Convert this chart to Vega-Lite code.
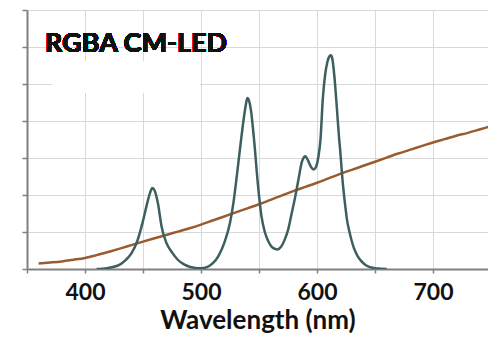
{
  "$schema": "https://vega.github.io/schema/vega-lite/v6.json",
  "autosize": {"type": "none"},
  "width": 461,
  "height": 259,
  "padding": {"left": 27, "top": 10, "right": 0, "bottom": 70},
  "background": "white",
  "config": {
    "view": {"stroke": null},
    "axis": {
      "grid": true, "gridColor": "#d9d9d9", "gridWidth": 1,
      "domainColor": "#808080", "domainWidth": 2,
      "tickColor": "#808080", "tickWidth": 1.5
    }
  },
  "data": {
    "values": [
      {"wl": 360, "v": 0.15, "s": "curve"}, {"wl": 370, "v": 0.175, "s": "curve"}, {"wl": 380, "v": 0.205, "s": "curve"}, {"wl": 390, "v": 0.25, "s": "curve"},
      {"wl": 400, "v": 0.3, "s": "curve"}, {"wl": 410, "v": 0.375, "s": "curve"}, {"wl": 420, "v": 0.46, "s": "curve"}, {"wl": 430, "v": 0.55, "s": "curve"},
      {"wl": 440, "v": 0.645, "s": "curve"}, {"wl": 450, "v": 0.74, "s": "curve"}, {"wl": 460, "v": 0.83, "s": "curve"}, {"wl": 470, "v": 0.92, "s": "curve"},
      {"wl": 480, "v": 1.01, "s": "curve"}, {"wl": 490, "v": 1.1, "s": "curve"}, {"wl": 500, "v": 1.2, "s": "curve"}, {"wl": 510, "v": 1.31, "s": "curve"},
      {"wl": 520, "v": 1.42, "s": "curve"}, {"wl": 530, "v": 1.53, "s": "curve"}, {"wl": 540, "v": 1.64, "s": "curve"}, {"wl": 550, "v": 1.75, "s": "curve"},
      {"wl": 560, "v": 1.87, "s": "curve"}, {"wl": 570, "v": 1.99, "s": "curve"}, {"wl": 580, "v": 2.11, "s": "curve"}, {"wl": 590, "v": 2.22, "s": "curve"},
      {"wl": 600, "v": 2.33, "s": "curve"}, {"wl": 610, "v": 2.45, "s": "curve"}, {"wl": 620, "v": 2.57, "s": "curve"}, {"wl": 630, "v": 2.68, "s": "curve"},
      {"wl": 640, "v": 2.79, "s": "curve"}, {"wl": 650, "v": 2.9, "s": "curve"}, {"wl": 660, "v": 3.01, "s": "curve"}, {"wl": 670, "v": 3.12, "s": "curve"},
      {"wl": 680, "v": 3.22, "s": "curve"}, {"wl": 690, "v": 3.32, "s": "curve"}, {"wl": 700, "v": 3.42, "s": "curve"}, {"wl": 710, "v": 3.51, "s": "curve"},
      {"wl": 720, "v": 3.6, "s": "curve"}, {"wl": 730, "v": 3.68, "s": "curve"}, {"wl": 740, "v": 3.77, "s": "curve"}, {"wl": 750, "v": 3.86, "s": "curve"},

      {"wl": 410, "v": 0, "s": "led"}, {"wl": 415, "v": 0.01, "s": "led"}, {"wl": 420, "v": 0.03, "s": "led"}, {"wl": 425, "v": 0.06, "s": "led"},
      {"wl": 430, "v": 0.12, "s": "led"}, {"wl": 435, "v": 0.24, "s": "led"}, {"wl": 440, "v": 0.42, "s": "led"}, {"wl": 445, "v": 0.75, "s": "led"},
      {"wl": 450, "v": 1.3, "s": "led"}, {"wl": 453, "v": 1.7, "s": "led"}, {"wl": 456, "v": 2.05, "s": "led"}, {"wl": 458, "v": 2.19, "s": "led"},
      {"wl": 460, "v": 2.12, "s": "led"}, {"wl": 463, "v": 1.75, "s": "led"}, {"wl": 466, "v": 1.15, "s": "led"}, {"wl": 470, "v": 0.72, "s": "led"},
      {"wl": 475, "v": 0.45, "s": "led"}, {"wl": 480, "v": 0.25, "s": "led"}, {"wl": 485, "v": 0.13, "s": "led"}, {"wl": 490, "v": 0.06, "s": "led"},
      {"wl": 495, "v": 0.03, "s": "led"}, {"wl": 500, "v": 0.02, "s": "led"}, {"wl": 505, "v": 0.05, "s": "led"}, {"wl": 510, "v": 0.15, "s": "led"},
      {"wl": 515, "v": 0.35, "s": "led"}, {"wl": 520, "v": 0.7, "s": "led"}, {"wl": 525, "v": 1.25, "s": "led"}, {"wl": 528, "v": 1.8, "s": "led"},
      {"wl": 531, "v": 2.55, "s": "led"}, {"wl": 534, "v": 3.35, "s": "led"}, {"wl": 537, "v": 4.1, "s": "led"}, {"wl": 539, "v": 4.5, "s": "led"},
      {"wl": 540, "v": 4.62, "s": "led"}, {"wl": 541, "v": 4.58, "s": "led"}, {"wl": 543, "v": 4.3, "s": "led"}, {"wl": 546, "v": 3.4, "s": "led"},
      {"wl": 549, "v": 2.3, "s": "led"}, {"wl": 552, "v": 1.45, "s": "led"}, {"wl": 555, "v": 1.0, "s": "led"}, {"wl": 558, "v": 0.75, "s": "led"},
      {"wl": 561, "v": 0.6, "s": "led"}, {"wl": 564, "v": 0.54, "s": "led"}, {"wl": 566, "v": 0.53, "s": "led"}, {"wl": 569, "v": 0.6, "s": "led"},
      {"wl": 572, "v": 0.78, "s": "led"}, {"wl": 575, "v": 1.05, "s": "led"}, {"wl": 578, "v": 1.48, "s": "led"}, {"wl": 581, "v": 1.92, "s": "led"},
      {"wl": 584, "v": 2.42, "s": "led"}, {"wl": 587, "v": 2.9, "s": "led"}, {"wl": 589, "v": 3.03, "s": "led"}, {"wl": 590, "v": 3.05, "s": "led"},
      {"wl": 592, "v": 2.95, "s": "led"}, {"wl": 595, "v": 2.75, "s": "led"}, {"wl": 597, "v": 2.69, "s": "led"}, {"wl": 599, "v": 2.75, "s": "led"},
      {"wl": 601, "v": 3.0, "s": "led"}, {"wl": 603, "v": 3.5, "s": "led"}, {"wl": 605, "v": 4.6, "s": "led"}, {"wl": 607, "v": 5.25, "s": "led"},
      {"wl": 609, "v": 5.6, "s": "led"}, {"wl": 611, "v": 5.76, "s": "led"}, {"wl": 612, "v": 5.78, "s": "led"}, {"wl": 613, "v": 5.72, "s": "led"},
      {"wl": 615, "v": 5.2, "s": "led"}, {"wl": 617, "v": 4.4, "s": "led"}, {"wl": 619, "v": 3.55, "s": "led"}, {"wl": 620, "v": 3.2, "s": "led"},
      {"wl": 622, "v": 2.4, "s": "led"}, {"wl": 624, "v": 1.8, "s": "led"}, {"wl": 626, "v": 1.3, "s": "led"}, {"wl": 628, "v": 1.0, "s": "led"},
      {"wl": 630, "v": 0.75, "s": "led"}, {"wl": 632, "v": 0.55, "s": "led"}, {"wl": 635, "v": 0.35, "s": "led"}, {"wl": 638, "v": 0.22, "s": "led"},
      {"wl": 641, "v": 0.13, "s": "led"}, {"wl": 644, "v": 0.07, "s": "led"}, {"wl": 647, "v": 0.04, "s": "led"}, {"wl": 650, "v": 0.02, "s": "led"},
      {"wl": 655, "v": 0.01, "s": "led"}, {"wl": 660, "v": 0, "s": "led"}
    ]
  },
  "layer": [
    {
      "mark": {"type": "line", "interpolate": "monotone", "strokeWidth": 2.5, "clip": true},
      "encoding": {
        "x": {
          "field": "wl", "type": "quantitative",
          "scale": {"domain": [350, 747.4], "nice": false, "zero": false},
          "axis": {
            "values": [350, 400, 450, 500, 550, 600, 650, 700],
            "format": "d",
            "labelExpr": "datum.value % 100 == 0 && datum.value >= 400 ? datum.label : ''",
            "tickSize": 4,
            "labelFont": "Lato", "labelFontWeight": "bold", "labelFontSize": 23, "labelColor": "#111111", "labelPadding": 8,
            "title": "Wavelength (nm)", "titleFont": "Lato", "titleFontWeight": "bold", "titleFontSize": 26, "titleColor": "#111111", "titlePadding": 3
          }
        },
        "y": {
          "field": "v", "type": "quantitative",
          "scale": {"domain": [0, 7], "nice": false},
          "axis": {
            "values": [0, 1, 2, 3, 4, 5, 6, 7],
            "labels": false, "title": null, "tickSize": 5
          }
        },
        "color": {
          "field": "s", "type": "nominal",
          "scale": {"domain": ["curve", "led"], "range": ["#9a5b30", "#3d5f60"]},
          "legend": null
        },
        "order": {"field": "wl", "type": "quantitative"}
      }
    },
    {
      "mark": {"type": "rect", "color": "white"},
      "encoding": {
        "x": {"datum": 372, "type": "quantitative", "axis": {
            "values": [350, 400, 450, 500, 550, 600, 650, 700],
            "format": "d",
            "labelExpr": "datum.value % 100 == 0 && datum.value >= 400 ? datum.label : ''",
            "tickSize": 4,
            "labelFont": "Lato", "labelFontWeight": "bold", "labelFontSize": 23, "labelColor": "#111111", "labelPadding": 8,
            "title": "Wavelength (nm)", "titleFont": "Lato", "titleFontWeight": "bold", "titleFontSize": 26, "titleColor": "#111111", "titlePadding": 3
          }},
        "x2": {"datum": 499},
        "y": {"datum": 4.76, "type": "quantitative", "axis": {
            "values": [0, 1, 2, 3, 4, 5, 6, 7],
            "labels": false, "title": null, "tickSize": 5
          }},
        "y2": {"datum": 5.62}
      }
    },
    {
      "mark": {"type": "text", "text": "RGBA CM-LED", "font": "Lato", "fontWeight": "bold", "fontSize": 27, "align": "left", "baseline": "alphabetic", "color": "#111111"},
      "encoding": {
        "x": {"datum": 365.5, "type": "quantitative", "axis": {
            "values": [350, 400, 450, 500, 550, 600, 650, 700],
            "format": "d",
            "labelExpr": "datum.value % 100 == 0 && datum.value >= 400 ? datum.label : ''",
            "tickSize": 4,
            "labelFont": "Lato", "labelFontWeight": "bold", "labelFontSize": 23, "labelColor": "#111111", "labelPadding": 8,
            "title": "Wavelength (nm)", "titleFont": "Lato", "titleFontWeight": "bold", "titleFontSize": 26, "titleColor": "#111111", "titlePadding": 3
          }},
        "y": {"datum": 5.86, "type": "quantitative", "axis": {
            "values": [0, 1, 2, 3, 4, 5, 6, 7],
            "labels": false, "title": null, "tickSize": 5
          }}
      }
    }
  ]
}
